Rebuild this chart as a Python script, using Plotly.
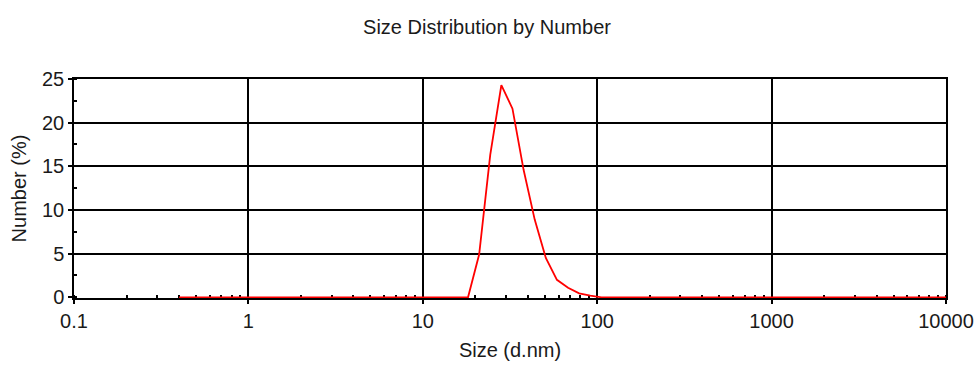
import plotly.graph_objects as go

# Size bins (d.nm) and number distribution (%)
sizes = [0.4, 15.69, 18.17, 21.04, 24.36, 28.21, 32.67, 37.84, 43.82, 50.75,
         58.77, 68.06, 78.82, 91.28, 105.7, 10000]
number_pct = [0, 0, 0, 4.9, 16.3, 24.3, 21.6, 14.6, 8.9, 4.5,
              2.0, 1.1, 0.45, 0.2, 0, 0]

x_tickvals = [0.1, 1, 10, 100, 1000, 10000]
x_ticktext = ["0.1", "1", "10", "100", "1000", "10000"]
y_tickvals = [0, 5, 10, 15, 20, 25]

FONT = "Liberation Sans, Arial, sans-serif"
TXT = "#1a1a1a"
FS = 20

W, H = 977, 372
Y_RANGE = [-0.08, 25]  # tiny headroom below 0 so the red baseline isn't clipped

fig = go.Figure()
fig.add_trace(go.Scatter(
    x=sizes, y=number_pct, mode="lines",
    line=dict(color="#ff0000", width=1.8),
    cliponaxis=False, showlegend=False,
))

fig.update_layout(
    width=W, height=H,
    margin=dict(l=74, r=31, t=79, b=74, autoexpand=False),
    paper_bgcolor="white", plot_bgcolor="white",
    font=dict(family=FONT, size=FS, color=TXT),
    title=dict(text="Size Distribution by Number", x=487 / W, xanchor="center",
               y=1 - 27 / H, yanchor="middle", yref="container",
               font=dict(family=FONT, size=FS, color=TXT)),
    # overlay axes that only carry the outside half of the crossing minor ticks
    xaxis2=dict(overlaying="x", type="log", range=[-1, 4], side="bottom",
                showticklabels=False, ticks="", showgrid=False, showline=False,
                zeroline=False, automargin=False, anchor="y",
                tickvals=x_tickvals,
                minor=dict(ticks="outside", ticklen=3, tickcolor="black",
                           tickwidth=1.5, dtick="D1", showgrid=False)),
    yaxis2=dict(overlaying="y", range=Y_RANGE, side="left",
                showticklabels=False, ticks="", showgrid=False, showline=False,
                zeroline=False, automargin=False, anchor="x",
                tickvals=y_tickvals,
                minor=dict(ticks="outside", ticklen=3, tickcolor="black",
                           tickwidth=1.5, dtick=2.5, tick0=0, showgrid=False)),
)

fig.layout.xaxis.update(
    type="log", range=[-1, 4],
    tickvals=x_tickvals, ticktext=x_ticktext,
    showgrid=True, gridcolor="black", gridwidth=1.5,
    showline=True, linecolor="black", linewidth=1.5, mirror=True,
    ticks="outside", ticklen=4, tickcolor="black", tickwidth=1.5,
    minor=dict(ticks="inside", ticklen=3, tickcolor="black", tickwidth=1.5,
               dtick="D1", showgrid=False),
    tickfont=dict(family=FONT, size=FS, color=TXT),
    title=dict(text="Size (d.nm)", font=dict(family=FONT, size=FS, color=TXT),
               standoff=12),
    automargin=False, zeroline=False, layer="below traces",
)

fig.layout.yaxis.update(
    range=Y_RANGE,
    tickvals=y_tickvals,
    showgrid=True, gridcolor="black", gridwidth=1.5,
    showline=True, linecolor="black", linewidth=1.5, mirror=True,
    ticks="outside", ticklen=4, tickcolor="black", tickwidth=1.5,
    minor=dict(ticks="inside", ticklen=3, tickcolor="black", tickwidth=1.5,
               dtick=2.5, tick0=0, showgrid=False),
    tickfont=dict(family=FONT, size=FS, color=TXT),
    title=dict(text="Number (%)", font=dict(family=FONT, size=FS, color=TXT),
               standoff=10),
    automargin=False, zeroline=False,
)

# remove the browser's default 8px body margin so the figure fills the window
fig.write_html("out.html",
               config={"displayModeBar": False},
               post_script="document.body.style.margin='0';"
                           "document.body.style.overflow='hidden';")
